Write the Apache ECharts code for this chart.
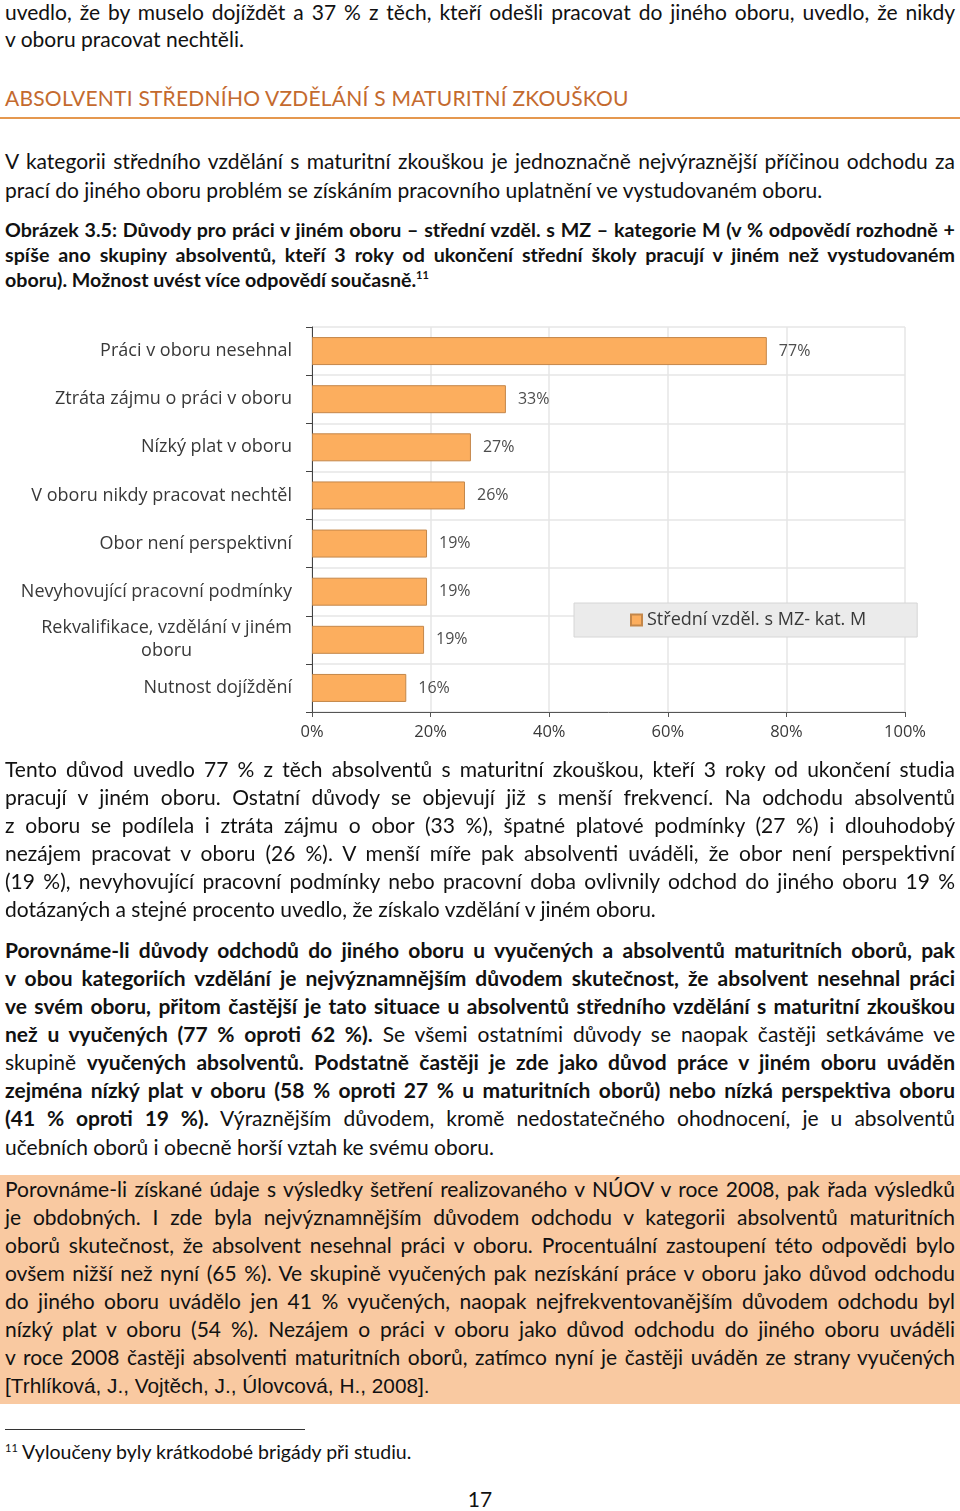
<!DOCTYPE html>
<html><head><meta charset="utf-8">
<script src="https://cdn.jsdelivr.net/npm/echarts@6/dist/echarts.min.js"></script>
<style>
html,body{margin:0;padding:0;background:#fff;}
#page{position:relative;width:960px;height:1511px;overflow:hidden;font-family:Lato,"Noto Sans",sans-serif;color:#111;}
.ln{position:absolute;left:5px;width:950px;white-space:normal;line-height:28px;height:28px;}
.j{text-align:justify;text-align-last:justify;}
.b{font-weight:bold;}
#chart{position:absolute;left:0;top:300px;width:960px;height:460px;}
#box{position:absolute;left:0;top:1175px;width:960px;height:229px;background:#f9c9a1;}
</style></head>
<body><div id="page">
<div id="box"></div>
<div style="position:absolute;left:0;top:117px;width:960px;height:2px;background:#e5984f"></div>
<div style="position:absolute;left:5px;top:1429px;width:300px;height:1px;background:#333"></div>
<div id="chart"></div>
</div>
<script>
// ---- chart data ----
var categories = ['Práci v oboru nesehnal','Ztráta zájmu o práci v oboru','Nízký plat v oboru','V oboru nikdy pracovat nechtěl','Obor není perspektivní','Nevyhovující pracovní podmínky','Rekvalifikace, vzdělání v jiném\noboru','Nutnost dojíždění'];
var values = [76.7, 32.7, 26.8, 25.8, 19.4, 19.4, 18.9, 15.9];
var seriesName = 'Střední vzděl. s MZ- kat. M';
var xTicks = [0, 20, 40, 60, 80, 100];

// ---- page text lines ----
var lines = [
 [12,'j','uvedlo, že by muselo dojíždět a 37 % z těch, kteří odešli pracovat do jiného oboru, uvedlo, že nikdy'],
 [39,'','v oboru pracovat nechtěli.'],
 [161,'j','V kategorii středního vzdělání s maturitní zkouškou je jednoznačně nejvýraznější příčinou odchodu za'],
 [190,'','prací do jiného oboru problém se získáním pracovního uplatnění ve vystudovaném oboru.'],
 [769,'j','Tento důvod uvedlo 77 % z těch absolventů s maturitní zkouškou, kteří 3 roky od ukončení studia'],
 [797,'j','pracují v jiném oboru. Ostatní důvody se objevují již s menší frekvencí. Na odchodu absolventů'],
 [825,'j','z oboru se podílela i ztráta zájmu o obor (33 %), špatné platové podmínky (27 %) i dlouhodobý'],
 [853,'j','nezájem pracovat v oboru (26 %). V menší míře pak absolventi uváděli, že obor není perspektivní'],
 [881,'j','(19 %), nevyhovující pracovní podmínky nebo pracovní doba ovlivnily odchod do jiného oboru 19 %'],
 [909,'','dotázaných a stejné procento uvedlo, že získalo vzdělání v jiném oboru.'],
 [950,'j b','Porovnáme-li důvody odchodů do jiného oboru u vyučených a absolventů maturitních oborů, pak'],
 [978,'j b','v obou kategoriích vzdělání je nejvýznamnějším důvodem skutečnost, že absolvent nesehnal práci'],
 [1006,'j b','ve svém oboru, přitom častější je tato situace u absolventů středního vzdělání s maturitní zkouškou'],
 [1034,'j','<b>než u vyučených (77 % oproti 62 %).</b> Se všemi ostatními důvody se naopak častěji setkáváme ve'],
 [1062,'j','skupině <b>vyučených absolventů. Podstatně častěji je zde jako důvod práce v jiném oboru uváděn</b>'],
 [1090,'j b','zejména nízký plat v oboru (58 % oproti 27 % u maturitních oborů) nebo nízká perspektiva oboru'],
 [1118,'j','<b>(41 % oproti 19 %).</b> Výraznějším důvodem, kromě nedostatečného ohodnocení, je u absolventů'],
 [1147,'','učebních oborů i obecně horší vztah ke svému oboru.'],
 [1189,'j','Porovnáme-li získané údaje s výsledky šetření realizovaného v NÚOV v roce 2008, pak řada výsledků'],
 [1217,'j','je obdobných. I zde byla nejvýznamnějším důvodem odchodu v kategorii absolventů maturitních'],
 [1245,'j','oborů skutečnost, že absolvent nesehnal práci v oboru. Procentuální zastoupení této odpovědi bylo'],
 [1273,'j','ovšem nižší než nyní (65 %). Ve skupině vyučených pak nezískání práce v oboru jako důvod odchodu'],
 [1301,'j','do jiného oboru uvádělo jen 41 % vyučených, naopak nejfrekventovanějším důvodem odchodu byl'],
 [1329,'j','nízký plat v oboru (54 %). Nezájem o práci v oboru jako důvod odchodu do jiného oboru uváděli'],
 [1357,'j','v roce 2008 častěji absolventi maturitních oborů, zatímco nyní je častěji uváděn ze strany vyučených']
];
var page = document.getElementById('page');
function add(y, cls, html, fs, extra){
  var d = document.createElement('div');
  d.className = 'ln ' + cls;
  d.style.top = (y - 14) + 'px';
  if (fs) d.style.fontSize = fs + 'px';
  if (extra) for (var k in extra) d.style[k] = extra[k];
  d.innerHTML = html;
  page.appendChild(d);
  return d;
}
// auto-fit body font size to reference line width (842px)
var probe = document.createElement('span');
probe.style.cssText = 'position:absolute;visibility:hidden;white-space:nowrap;font-family:Lato,"Noto Sans",sans-serif;font-size:20px;';
probe.textContent = lines[3][2];
page.appendChild(probe);
var bodyFs = 20 * 842 / probe.getBoundingClientRect().width;
page.removeChild(probe);
bodyFs = Math.min(bodyFs, 21);
lines.forEach(function(l){ add(l[0], l[1], l[2], bodyFs); });

// caption (bold)
var capFs = bodyFs * 0.935;
add(230,'j b','Obrázek 3.5: Důvody pro práci v jiném oboru – střední vzděl. s MZ – kategorie M (v % odpovědí rozhodně +',capFs);
add(255,'j b','spíše ano skupiny absolventů, kteří 3 roky od ukončení střední školy pracují v jiném než vystudovaném',capFs);
add(280,'b','oboru). Možnost uvést více odpovědí současně.<sup style="font-size:11px;vertical-align:8px;line-height:0">11</sup>',capFs);
// heading
add(98,'','ABSOLVENTI STŘEDNÍHO VZDĚLÁNÍ S MATURITNÍ ZKOUŠKOU',bodyFs,{color:'#c46a2e',fontWeight:'400',letterSpacing:'0.22px'});
// citation in Arial-like
add(1386,'','[Trhlíková, J., Vojtěch, J., Úlovcová, H., 2008].',20.8,{fontFamily:'"Liberation Sans",Arial,sans-serif'});
// footnote
add(1452,'','<sup style="font-size:11px;vertical-align:7px;line-height:0">11</sup> Vyloučeny byly krátkodobé brigády při studiu.',bodyFs*0.93);
add(1499,'','17',bodyFs,{textAlign:'center',left:'0px',width:'960px'});

// ---- chart ----
var chart = echarts.init(document.getElementById('chart'), null, {renderer:'canvas'});
var labelFont = '"Open Sans","Noto Sans",sans-serif';
chart.setOption({
  animation:false,
  grid:{left:312,right:55,top:27,bottom:48,containLabel:false},
  legend:{
    show:true, left:574, top:303,
    padding:[8,51,8,56],
    backgroundColor:'#ebebeb', borderColor:'#d6d6d6', borderWidth:1, borderRadius:0,
    icon:'rect', itemWidth:11, itemHeight:11,
    textStyle:{fontFamily:labelFont,fontSize:18,color:'#383838'},
    data:[seriesName]
  },
  xAxis:{
    type:'value', min:xTicks[0], max:xTicks[xTicks.length-1], interval:20,
    axisLine:{show:true,lineStyle:{color:'#555'}},
    axisTick:{show:true,length:5,lineStyle:{color:'#555'}},
    axisLabel:{formatter:'{value}%',fontFamily:labelFont,fontSize:16.5,color:'#383838',margin:12},
    splitLine:{show:true,lineStyle:{color:'#e6e6e6',width:1.5}}
  },
  yAxis:{
    type:'category', inverse:true, data:categories,
    axisLine:{show:true,lineStyle:{color:'#444'}},
    axisTick:{show:true,length:6,lineStyle:{color:'#444'}},
    splitLine:{show:true,lineStyle:{color:'#e6e6e6',width:1.5}},
    axisLabel:{
      fontFamily:labelFont,fontSize:18,color:'#383838',margin:20,lineHeight:23,
      formatter:function(v){
        var parts=v.split('\n');
        if(parts.length===1) return v;
        return parts.map(function(p){return '{c|'+p+'}';}).join('\n');
      },
      rich:{c:{align:'center',fontFamily:labelFont,fontSize:18,color:'#383838',lineHeight:23}}
    }
  },
  series:[{
    name:seriesName, type:'bar', data:values, barWidth:28,
    itemStyle:{color:'#fcae5e',borderColor:'#c4874a',borderWidth:1},
    label:{show:true,position:'right',distance:12,fontFamily:labelFont,fontSize:16,color:'#4d4d4d',
      formatter:function(p){return Math.round(p.value)+'%';}}
  }]
});
</script>
</body></html>
